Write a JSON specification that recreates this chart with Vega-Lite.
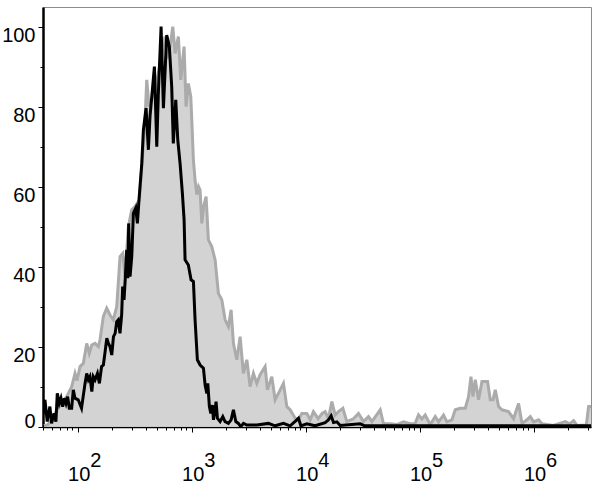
{
  "$schema": "https://vega.github.io/schema/vega-lite/v6.json",
  "width": 548,
  "height": 420,
  "autosize": "none",
  "padding": {"left": 43, "top": 7, "right": 9, "bottom": 57},
  "background": "white",
  "config": {"view": {"stroke": "#8c8c8c", "strokeWidth": 1}, "font": "Liberation Sans"},
  "datasets": {
    "grey": [
      {"x":50.6,"count":0.2},{"x":54.9,"count":0.5},{"x":61.1,"count":2.5},{"x":67.1,"count":4.5},{"x":72.8,"count":6},{"x":80.1,"count":7.5},{"x":88.6,"count":10},{"x":94.7,"count":13.3},{"x":98.6,"count":11.5},{"x":104.8,"count":15},{"x":112,"count":15.8},{"x":120,"count":20.8},{"x":126.4,"count":18.3},{"x":132.7,"count":20.4},{"x":141.8,"count":20.8},{"x":151.7,"count":20},{"x":157,"count":21.7},{"x":167.8,"count":27.5},{"x":179.7,"count":29.6},{"x":192.1,"count":27.9},{"x":205.4,"count":26.7},{"x":220,"count":30},{"x":235.2,"count":42.5},{"x":248.5,"count":43.3},{"x":260.2,"count":37.5},{"x":278.2,"count":50},{"x":298,"count":54.2},{"x":318.5,"count":55},{"x":347.4,"count":56.7},{"x":366.8,"count":66},{"x":387.6,"count":75},{"x":403.4,"count":86.7},{"x":422.7,"count":80},{"x":449,"count":82},{"x":477.2,"count":84},{"x":507,"count":88},{"x":538.7,"count":92},{"x":584.1,"count":97.5},{"x":624.3,"count":92},{"x":682.6,"count":100},{"x":715.1,"count":93.3},{"x":764.3,"count":97.5},{"x":802.3,"count":86.7},{"x":857.7,"count":95},{"x":893,"count":80},{"x":935.5,"count":85.8},{"x":982,"count":82.5},{"x":1008,"count":75},{"x":1035,"count":66.7},{"x":1071,"count":61.7},{"x":1109,"count":58},{"x":1150,"count":60},{"x":1185,"count":59.2},{"x":1227,"count":50.8},{"x":1272,"count":55},{"x":1338,"count":57.5},{"x":1402,"count":46.7},{"x":1501,"count":45},{"x":1605,"count":41.7},{"x":1716,"count":33.3},{"x":1838,"count":31.7},{"x":1965,"count":26.7},{"x":2100,"count":25},{"x":2218,"count":29.2},{"x":2324,"count":20.8},{"x":2489,"count":16.7},{"x":2661,"count":22.5},{"x":2844,"count":13.3},{"x":3047,"count":16.7},{"x":3256,"count":10},{"x":3481,"count":13.3},{"x":3729,"count":10.8},{"x":3986,"count":13},{"x":4410,"count":15},{"x":4619,"count":9.2},{"x":5049,"count":12.5},{"x":5398,"count":6.7},{"x":5771,"count":8.3},{"x":6386,"count":10.8},{"x":6840,"count":5},{"x":7310,"count":4.2},{"x":8086,"count":2.1},{"x":8646,"count":1.7},{"x":9260,"count":3.3},{"x":10245,"count":3.3},{"x":10951,"count":1.7},{"x":11708,"count":3.75},{"x":12876,"count":2},{"x":13962,"count":3.3},{"x":14836,"count":3.75},{"x":15857,"count":2},{"x":16982,"count":6.25},{"x":18155,"count":2.9},{"x":19409,"count":3.75},{"x":21214,"count":4.6},{"x":22996,"count":1.25},{"x":26122,"count":1.9},{"x":29079,"count":3.3},{"x":32176,"count":1.25},{"x":35604,"count":2.5},{"x":38128,"count":1.25},{"x":45103,"count":4.2},{"x":48217,"count":0.7},{"x":55200,"count":0.7},{"x":63200,"count":0.5},{"x":72240,"count":1.2},{"x":82700,"count":0.7},{"x":91500,"count":0.8},{"x":97800,"count":2.9},{"x":104760,"count":1.9},{"x":112000,"count":2.9},{"x":123900,"count":0.5},{"x":137100,"count":2.5},{"x":146600,"count":1.2},{"x":162200,"count":2.9},{"x":173700,"count":1.2},{"x":192100,"count":1.7},{"x":205400,"count":4.2},{"x":227300,"count":4.6},{"x":251500,"count":4.6},{"x":268800,"count":7.5},{"x":282100,"count":12.5},{"x":293800,"count":7.5},{"x":307700,"count":11.7},{"x":329000,"count":6.7},{"x":352400,"count":11.25},{"x":394700,"count":11.25},{"x":416900,"count":6.7},{"x":440300,"count":6.7},{"x":461300,"count":9.2},{"x":493000,"count":5},{"x":528000,"count":4.2},{"x":603200,"count":3.75},{"x":667400,"count":2},{"x":738500,"count":5.8},{"x":791200,"count":0.8},{"x":875200,"count":1.7},{"x":935700,"count":2.5},{"x":1000000,"count":1.2},{"x":1106000,"count":1.7},{"x":1185000,"count":0.7},{"x":1489000,"count":0.3},{"x":1898000,"count":1.25},{"x":2071000,"count":0.7},{"x":2245000,"count":1.5},{"x":2404000,"count":0.3},{"x":2902000,"count":0.4},{"x":3040000,"count":5},{"x":3190000,"count":5}
    ],
    "black": [
      {"x":49.6,"count":3},{"x":51.6,"count":6.7},{"x":54,"count":1.25},{"x":57,"count":5},{"x":59,"count":0.8},{"x":62,"count":3.3},{"x":64.4,"count":1.25},{"x":66.2,"count":8.3},{"x":68.9,"count":5.8},{"x":71.3,"count":7.1},{"x":73.8,"count":5},{"x":76.3,"count":7.1},{"x":78.9,"count":5.8},{"x":81.6,"count":7.5},{"x":84.4,"count":4.6},{"x":88.5,"count":4.6},{"x":91.5,"count":9.2},{"x":94.6,"count":7.1},{"x":101,"count":6.7},{"x":108,"count":4.6},{"x":116,"count":10.8},{"x":120,"count":13.3},{"x":124,"count":11.7},{"x":128,"count":12.5},{"x":133,"count":8.75},{"x":137,"count":12.5},{"x":142,"count":11.7},{"x":149,"count":13.3},{"x":155,"count":10.8},{"x":162,"count":15},{"x":168,"count":15.4},{"x":174,"count":18.75},{"x":180,"count":22.1},{"x":186,"count":20.8},{"x":192,"count":20},{"x":199,"count":17.9},{"x":206,"count":22.5},{"x":213,"count":23.3},{"x":220,"count":26.25},{"x":227,"count":26.7},{"x":235,"count":23.3},{"x":243,"count":27.9},{"x":248,"count":35},{"x":255,"count":31.7},{"x":262,"count":37.5},{"x":269,"count":44.2},{"x":275,"count":37.1},{"x":280,"count":50.8},{"x":288,"count":37.5},{"x":298,"count":42.5},{"x":308,"count":53.3},{"x":323,"count":54.6},{"x":334,"count":50.8},{"x":345,"count":56.7},{"x":365,"count":65.8},{"x":377,"count":74.2},{"x":398,"count":79.6},{"x":417,"count":69.2},{"x":431,"count":77.5},{"x":471,"count":90},{"x":494,"count":70},{"x":510,"count":83.3},{"x":539,"count":100},{"x":565,"count":79.6},{"x":604,"count":97.9},{"x":637,"count":95},{"x":668,"count":85},{"x":690,"count":70.8},{"x":725,"count":81.7},{"x":755,"count":71.7},{"x":791,"count":65.8},{"x":829,"count":58.3},{"x":858,"count":51.7},{"x":875,"count":41.7},{"x":935,"count":40.4},{"x":988,"count":36.7},{"x":1036,"count":36.25},{"x":1071,"count":26.7},{"x":1122,"count":16.7},{"x":1186,"count":15.4},{"x":1268,"count":14.6},{"x":1312,"count":10.4},{"x":1358,"count":8.3},{"x":1385,"count":10.8},{"x":1430,"count":5},{"x":1472,"count":3.3},{"x":1520,"count":5.4},{"x":1552,"count":1.7},{"x":1605,"count":4.2},{"x":1637,"count":6.25},{"x":1682,"count":2.1},{"x":1776,"count":1.25},{"x":1875,"count":2.5},{"x":1964,"count":1.25},{"x":2100,"count":0.8},{"x":2218,"count":1.7},{"x":2324,"count":4.2},{"x":2439,"count":1.25},{"x":2570,"count":0.8},{"x":2698,"count":0},{"x":2846,"count":0.8},{"x":3048,"count":0.4},{"x":3731,"count":0.4},{"x":4715,"count":0.8},{"x":5400,"count":0.2},{"x":6380,"count":0.8},{"x":7310,"count":0.2},{"x":8370,"count":1.7},{"x":8650,"count":2.1},{"x":9080,"count":0.2},{"x":10250,"count":0.7},{"x":12100,"count":0.2},{"x":14840,"count":1},{"x":15860,"count":1.7},{"x":16750,"count":2.7},{"x":17550,"count":1},{"x":18800,"count":1.2},{"x":20100,"count":0.3},{"x":30100,"count":0.7},{"x":33000,"count":0.2},{"x":3190000,"count":0.2}
    ]
  },
  "layer": [
    {
      "data": {"name": "grey"},
      "mark": {"type": "area", "color": "#d3d3d3", "clip": true, "interpolate": "linear"},
      "encoding": {
        "x": {"field": "x", "type": "quantitative", "scale": {"type": "log", "domain": [49.6, 3190000], "nice": false},
          "axis": {"orient": "bottom", "title": null, "grid": false,
            "values": [50,60,70,80,90,100,200,300,400,500,600,700,800,900,1000,2000,3000,4000,5000,6000,7000,8000,9000,10000,20000,30000,40000,50000,60000,70000,80000,90000,100000,200000,300000,400000,500000,600000,700000,800000,900000,1000000,2000000,3000000],
            "labelExpr": "indexof([100,1000,10000,100000,1000000], datum.value) >= 0 ? '10' : ''",
            "tickSize": {"condition": {"test": "indexof([100,1000,10000,100000,1000000], datum.value) >= 0", "value": 5}, "value": 3},
            "tickColor": "black", "tickWidth": 1, "domainColor": "black", "domainWidth": 1.5,
            "labelFontSize": 20, "labelFont": "Liberation Sans", "labelColor": "black", "labelPadding": 32,
            "labelBaseline": "top", "labelAlign": "center", "labelOffset": 1,
            "labelOverlap": false, "labelFlush": false, "labelBound": false}},
        "y": {"field": "count", "type": "quantitative", "scale": {"domain": [-0.1, 104.9], "nice": false, "zero": false},
          "axis": {"title": null, "grid": false,
            "values": [0,5,10,15,20,25,30,35,40,45,50,55,60,65,70,75,80,85,90,95,100],
            "labelExpr": "datum.value % 20 === 0 ? datum.label : ''",
            "tickSize": {"condition": {"test": "datum.value % 20 === 0", "value": 5}, "value": 3},
            "tickColor": "black", "tickWidth": 1, "domainColor": "black", "domainWidth": 2.5,
            "labelFontSize": 20, "labelFont": "Liberation Sans", "labelColor": "black", "labelPadding": 3,
            "labelBaseline": {"condition": {"test": "datum.value === 0", "value": "alphabetic"}, "value": "top"},
            "labelOffset": {"condition": {"test": "datum.value === 0", "value": 1}, "value": -1},
            "labelOverlap": false, "labelFlush": false, "labelBound": false}}
      }
    },
    {
      "data": {"name": "grey"},
      "mark": {"type": "line", "color": "#ababab", "strokeWidth": 3, "clip": true, "interpolate": "linear"},
      "encoding": {
        "x": {"field": "x", "type": "quantitative", "scale": {"type": "log", "domain": [49.6, 3190000], "nice": false}, "axis": null},
        "y": {"field": "count", "type": "quantitative"}
      }
    },
    {
      "data": {"name": "black"},
      "mark": {"type": "line", "color": "black", "strokeWidth": 3, "clip": true, "interpolate": "linear"},
      "encoding": {
        "x": {"field": "x", "type": "quantitative", "scale": {"type": "log", "domain": [49.6, 3190000], "nice": false},
          "axis": {"orient": "bottom", "title": null, "grid": false, "ticks": false, "domain": false,
            "values": [100,1000,10000,100000,1000000],
            "labelExpr": "format(round(log(datum.value)/LN10), 'd')",
            "labelFontSize": 20, "labelFont": "Liberation Sans", "labelColor": "black", "labelPadding": 23,
            "labelBaseline": "top", "labelAlign": "left", "labelOffset": 12,
            "labelOverlap": false, "labelFlush": false, "labelBound": false}},
        "y": {"field": "count", "type": "quantitative"}
      }
    }
  ],
  "resolve": {"axis": {"x": "independent"}}
}
